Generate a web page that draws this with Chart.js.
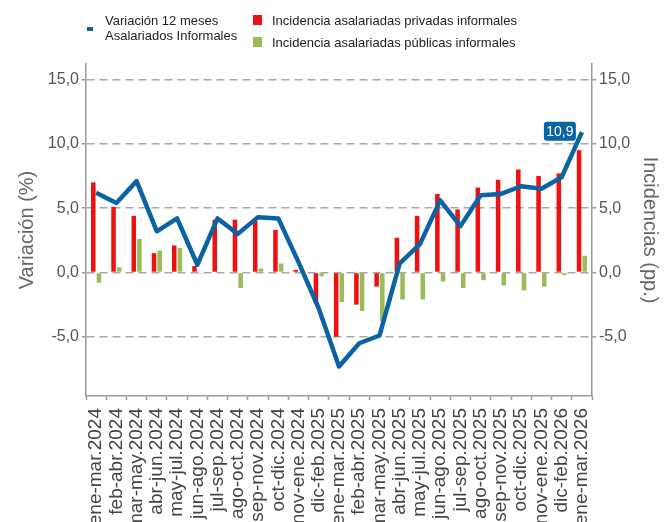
<!DOCTYPE html>
<html>
<head>
<meta charset="utf-8">
<script src="https://cdn.jsdelivr.net/npm/chart.js@4.4.1/dist/chart.umd.min.js"></script>
<style>
  html, body { margin: 0; padding: 0; background: #fff; }
  body { width: 664px; height: 522px; overflow: hidden; position: relative; font-family: "Liberation Sans", Arial, sans-serif; }
  #chart { position: absolute; left: 0; top: 0; }
  .lg { position: absolute; font-size: 13px; color: #222; white-space: nowrap; }
  .sw { position: absolute; }
</style>
</head>
<body>
<canvas id="chart" width="664" height="522"></canvas>

<!-- legend -->
<div class="sw" style="left:87px;top:27px;width:6px;height:4px;background:#0a64a4"></div>
<div class="lg" style="left:105px;top:13px;line-height:15px">Variación 12 meses<br>Asalariados Informales</div>
<div class="sw" style="left:253px;top:15px;width:9px;height:10px;background:#ee1111"></div>
<div class="lg" style="left:272px;top:13px;line-height:15px">Incidencia asalariadas privadas informales</div>
<div class="sw" style="left:253px;top:37px;width:9px;height:10px;background:#9bbb59"></div>
<div class="lg" style="left:272px;top:35px;line-height:15px">Incidencia asalariadas públicas informales</div>

<script>
// ------ Data ------
const periods = [
  'ene-mar.2024', 'feb-abr.2024', 'mar-may.2024', 'abr-jun.2024', 'may-jul.2024',
  'jun-ago.2024', 'jul-sep.2024', 'ago-oct.2024', 'sep-nov.2024', 'oct-dic.2024',
  'nov-ene.2024', 'dic-feb.2025', 'ene-mar.2025', 'feb-abr.2025', 'mar-may.2025',
  'abr-jun.2025', 'may-jul.2025', 'jun-ago.2025', 'jul-sep.2025', 'ago-oct.2025',
  'sep-nov.2025', 'oct-dic.2025', 'nov-ene.2025', 'dic-feb.2026', 'ene-mar.2026'
];
const variacion = [6.2, 5.4, 7.1, 3.2, 4.2, 0.6, 4.2, 3.0, 4.3, 4.2, 0.8, -2.8, -7.3, -5.5, -4.9, 0.7, 2.2, 5.6, 3.6, 6.0, 6.1, 6.7, 6.5, 7.4, 10.9];
const privadas = [7.0, 5.1, 4.4, 1.5, 2.1, 0.5, 4.1, 4.1, 4.0, 3.3, 0.2, -2.4, -5.0, -2.5, -1.1, 2.7, 4.4, 6.1, 4.9, 6.6, 7.2, 8.0, 7.5, 7.7, 9.5];
const publicas = [-0.8, 0.4, 2.6, 1.7, 1.9, -0.1, 0.0, -1.2, 0.3, 0.7, 0.1, -0.3, -2.3, -3.0, -3.8, -2.1, -2.1, -0.7, -1.2, -0.6, -1.0, -1.4, -1.1, -0.2, 1.3];
const yTicks = [-5, 0, 5, 10, 15];

const BLUE = '#0a64a4', RED = '#ee1111', GREEN = '#9bbb59';
const AXIS = '#9a9a9a';
const FONT = '"Liberation Sans", Arial, sans-serif';

const fmt = v => v.toFixed(1).replace('.', ',');

// label box on the last point of the line
const lastLabel = {
  id: 'lastLabel',
  afterDatasetsDraw(chart) {
    const meta = chart.getDatasetMeta(0);
    const i = variacion.length - 1;
    const pt = meta.data[i];
    const ctx = chart.ctx;
    const w = 32, h = 19;
    const x = pt.x - 6 - w, y = pt.y - h / 2 - 1;
    ctx.save();
    ctx.fillStyle = BLUE;
    ctx.beginPath();
    ctx.roundRect(x, y, w, h, 3);
    ctx.fill();
    ctx.fillStyle = '#fff';
    ctx.font = '14px ' + FONT;
    ctx.textAlign = 'center';
    ctx.textBaseline = 'middle';
    ctx.fillText(fmt(variacion[i]), x + w / 2, y + h / 2 + 1);
    ctx.restore();
  }
};

function yAxis(side, title, width, titlePad) {
  return {
    position: side,
    min: -9.6,
    max: 16.2,
    afterBuildTicks: s => { s.ticks = yTicks.map(v => ({ value: v })); },
    afterFit: s => { s.width = width; },
    grid: {
      drawOnChartArea: side === 'left',
      color: '#a8a8a8',
      lineWidth: 1.5,
      tickLength: 4,
      tickColor: AXIS,
      tickWidth: 1.5
    },
    border: { color: AXIS, width: 1.5, dash: [8, 5] },
    ticks: {
      padding: 3,
      color: '#555',
      font: { family: FONT, size: 16 },
      callback: v => fmt(v)
    },
    title: {
      display: true,
      text: title,
      color: '#666',
      font: { family: FONT, size: 20 },
      padding: titlePad
    }
  };
}

new Chart(document.getElementById('chart'), {
  data: {
    labels: periods,
    datasets: [
      {
        type: 'line',
        label: 'Variación 12 meses Asalariados Informales',
        data: variacion,
        borderColor: BLUE,
        borderWidth: 4.5,
        borderJoinStyle: 'round',
        pointRadius: 0,
        tension: 0,
        order: 0
      },
      {
        type: 'bar',
        label: 'Incidencia asalariadas privadas informales',
        data: privadas,
        backgroundColor: RED,
        categoryPercentage: 0.56,
        barPercentage: 0.8,
        order: 1
      },
      {
        type: 'bar',
        label: 'Incidencia asalariadas públicas informales',
        data: publicas,
        backgroundColor: GREEN,
        categoryPercentage: 0.56,
        barPercentage: 0.8,
        order: 1
      }
    ]
  },
  options: {
    responsive: false,
    animation: false,
    layout: { padding: { top: 64, left: 0, right: 0, bottom: 0 } },
    plugins: { legend: { display: false }, tooltip: { enabled: false } },
    scales: {
      x: {
        offset: true,
        afterFit: s => { s.height = 126; },
        grid: { drawOnChartArea: false, tickLength: 4, tickColor: AXIS, tickWidth: 1.5 },
        border: { color: AXIS, width: 1.5 },
        ticks: {
          autoSkip: false,
          minRotation: 90,
          maxRotation: 90,
          padding: 8,
          color: '#444',
          font: { family: FONT, size: 19 }
        }
      },
      y: yAxis('left', 'Variación (%)', 86, { top: 15, bottom: 0 }),
      y2: yAxis('right', 'Incidencias (pp.)', 72, { top: 2, bottom: 0 })
    }
  },
  plugins: [lastLabel]
});
</script>
</body>
</html>
